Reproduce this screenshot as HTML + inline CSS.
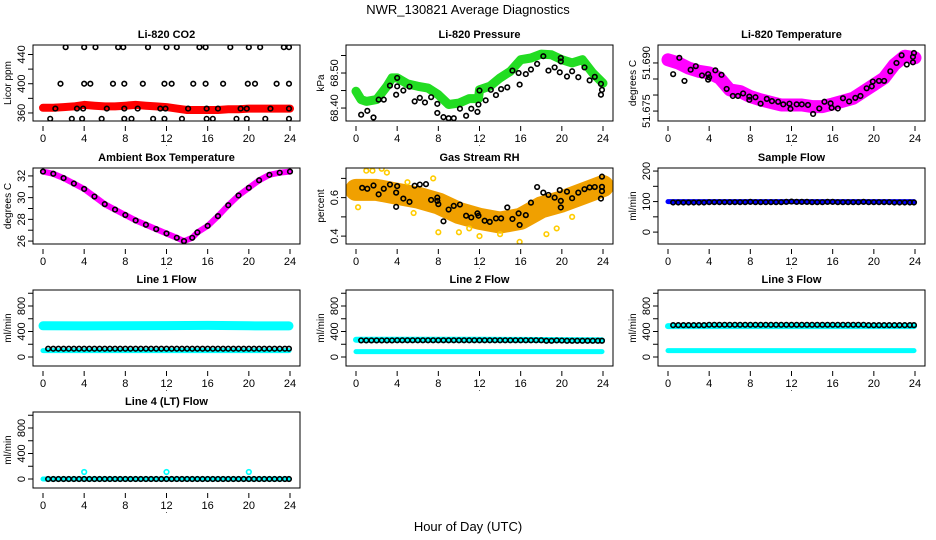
<!DOCTYPE html>
<html><head><meta charset="utf-8">
<style>
html,body{margin:0;padding:0;background:#fff;}
svg{display:block;font-family:"Liberation Sans",Arial,sans-serif;}
</style></head>
<body>
<svg id="chart" width="936" height="540" viewBox="0 0 936 540">
<rect x="0" y="0" width="936" height="540" fill="#fff"/>
<text x="468" y="14" text-anchor="middle" font-size="13">NWR_130821  Average Diagnostics</text>
<text x="468" y="531" text-anchor="middle" font-size="13">Hour of Day (UTC)</text>
</svg>
<script>
// ---- data arrays ----
const xTicks = [0,4,8,12,16,20,24];
const co2BandHours = [0,1,2,3,4,5,6,7,8,9,10,11,12,13,14,15,16,17,18,19,20,21,22,23,24];
const co2BandValues = [367,367,368,369,371,370,369,369,370,371,370,369,368,366,364,364,364,364,365,365,366,366,366,366,366];
const co2Hours440 = [2.2,4,5.1,7.3,7.8,10.2,12,13,15.2,15.8,18.2,20,21.1,23.4,23.9];
const co2Hours400 = [1.7,4,4.6,6.8,7.9,9.7,11.8,12.5,14.6,15.8,17.5,19.9,20.6,22.7,23.9];
const co2Hours366 = [1.2,3.3,3.9,6.2,7.9,9.2,11.4,11.9,14.1,15.9,17,19.2,19.8,22.1,23.9];
const co2Hours352 = [0.7,2.8,3.8,5.7,7.9,8.6,10.7,11.8,13.5,15.9,16.5,18.8,19.8,21.6,23.9];

const presBandHours = [0,0.5,1,2,3,3.5,4,5,6,7,8,9,10,11,11.9,12,13,14,15,16,17,18,19,20,21,22,23,24];
const presBandValues = [68.448,68.424,68.419,68.424,68.462,68.486,68.486,68.469,68.462,68.457,68.438,68.41,68.414,68.427,68.427,68.452,68.462,68.486,68.505,68.538,68.543,68.554,68.552,68.538,68.529,68.538,68.50,68.471];
const presPtHours = [0.5,1.1,1.7,2.2,2.7,3.3,3.9,4,4,4.6,5.2,5.7,6.2,6.7,7.3,7.9,7.9,8.5,9,9.5,10.1,10.7,11.2,11.8,11.9,12,12.6,13.1,13.6,14.1,14.7,15.2,15.8,15.9,16.5,17,17.6,18.2,18.7,19.3,19.8,19.9,19.9,20.5,21,21.6,22.2,22.7,23.2,23.8,23.8,23.9];
const presPtValues = [68.381,68.392,68.373,68.424,68.424,68.464,68.438,68.462,68.486,68.450,68.461,68.419,68.429,68.416,68.431,68.412,68.386,68.374,68.371,68.371,68.398,68.378,68.398,68.389,68.410,68.450,68.422,68.452,68.437,68.454,68.459,68.507,68.500,68.467,68.497,68.510,68.526,68.548,68.507,68.516,68.502,68.533,68.543,68.490,68.505,68.488,68.516,68.479,68.489,68.469,68.438,68.452];

const tempBandHours = [0,1,2,3,4,5,6,7,8,9,10,11,12,13,14,15,16,17,18,19,20,21,22,23,24];
const tempBandValues = [51.6910,51.6900,51.6884,51.6874,51.6869,51.6853,51.6816,51.6811,51.6795,51.6785,51.6777,51.6769,51.6769,51.6769,51.6764,51.6764,51.6772,51.6781,51.6790,51.6811,51.6832,51.6853,51.6895,51.6921,51.6916];
const tempPtHours = [0.5,1.1,1.6,2.2,2.7,3.3,3.9,3.9,4,4.6,5.2,5.7,6.3,6.8,7.3,7.9,7.9,8.5,9,9.6,10.1,10.7,11.2,11.8,11.9,12.5,13,13.6,14.1,14.7,15.2,15.8,15.9,16.5,17,17.6,18.2,18.7,19.3,19.8,19.9,20.5,21,21.6,22.2,22.7,23.2,23.8,23.8,23.9];
const tempPtValues = [51.6865,51.6916,51.6844,51.6879,51.6890,51.6861,51.6865,51.6848,51.6855,51.6877,51.6863,51.6819,51.6797,51.6797,51.6805,51.6785,51.6795,51.6793,51.6773,51.6788,51.6781,51.6779,51.6771,51.6773,51.6757,51.6771,51.6771,51.6769,51.6741,51.6758,51.6779,51.6774,51.6760,51.6758,51.6790,51.6780,51.6791,51.6797,51.6821,51.6827,51.6842,51.6844,51.6844,51.6874,51.6900,51.6924,51.6895,51.6902,51.6919,51.6931];

const ambHours = [0,1,2,3,4,5,6,7,8,9,10,11,12,13,13.7,14.5,15,16,17,18,19,20,21,22,23,24];
const ambValues = [32.4,32.2,31.8,31.3,30.8,30.1,29.4,28.9,28.4,27.9,27.5,27.1,26.7,26.3,26.0,26.3,26.8,27.4,28.3,29.3,30.2,30.9,31.6,32.1,32.3,32.4];

const rhBandHours = [0,2,4,6,8,10,12,14,16,18,20,22,24];
const rhBandValues = [0.64,0.64,0.62,0.60,0.57,0.52,0.49,0.47,0.49,0.55,0.58,0.62,0.66];
const rhOutHours = [0.2,1,1.6,2.5,3,5,5.6,7.5,8,10,11,12,14,15.9,18.5,19.5,21];
const rhOutValues = [0.55,0.74,0.74,0.75,0.73,0.68,0.52,0.70,0.42,0.42,0.44,0.40,0.41,0.37,0.41,0.44,0.50];
const rhPtHours = [0.6,1.1,1.7,2.2,2.7,3.3,3.9,3.9,4,4.6,5.2,5.7,6.2,6.8,7.3,7.9,7.9,8,8.5,9,9.5,10.1,10.7,11.2,11.8,11.9,12.5,13,13.6,14.1,14.7,15.2,15.8,15.9,16.5,17,17.6,18.2,18.7,19.3,19.8,19.9,19.9,20.5,21,21.6,22.2,22.7,23.2,23.8,23.9,23.9,23.9];
const rhPtValues = [0.651,0.646,0.663,0.617,0.646,0.668,0.552,0.626,0.660,0.595,0.578,0.662,0.668,0.670,0.588,0.600,0.583,0.566,0.477,0.538,0.557,0.564,0.506,0.497,0.518,0.506,0.480,0.474,0.492,0.492,0.549,0.489,0.518,0.458,0.509,0.574,0.655,0.626,0.614,0.600,0.639,0.583,0.549,0.631,0.597,0.626,0.644,0.653,0.655,0.595,0.709,0.656,0.634];

const flowHours = [0.5,1,1.5,2,2.5,3,3.5,4,4.5,5,5.5,6,6.5,7,7.5,8,8.5,9,9.5,10,10.5,11,11.5,12,12.5,13,13.5,14,14.5,15,15.5,16,16.5,17,17.5,18,18.5,19,19.5,20,20.5,21,21.5,22,22.5,23,23.5,23.9];
const sampleFlow = [97,97,97,97,97,97,97,98,98,98,98,98,98,98,98,99,98,98,98,98,98,98,99,100,99,99,99,98,98,98,99,99,98,98,98,98,98,99,98,98,98,98,98,97,97,97,97,97];
const line1Flow = [130,130,130,130,130,130,130,130,130,130,130,130,130,130,130,130,130,130,130,130,130,130,130,130,130,130,130,130,130,130,130,130,130,130,130,130,130,130,130,130,130,130,130,130,130,130,130,130];
const line2Flow = [260,260,260,260,260,260,260,262,262,262,262,262,262,262,262,262,262,262,262,262,262,262,262,262,262,262,262,262,262,262,262,262,262,262,262,262,255,255,260,258,255,255,255,255,255,255,255,255];
const line3Flow = [500,500,500,500,500,500,500,505,505,505,505,505,505,505,505,505,505,505,505,505,505,505,505,505,505,505,505,505,505,505,505,505,505,505,505,505,505,505,500,500,500,500,500,500,500,500,500,500];
const line4Flow = [0,0,0,0,0,0,0,0,0,0,0,0,0,0,0,0,0,0,0,0,0,0,0,0,0,0,0,0,0,0,0,0,0,0,0,0,0,0,0,0,0,0,0,0,0,0,0,0];
const cyanBandHours = [0,4,8,12,16,20,23.9];
const line1CyanHigh = [490,488,490,492,495,490,488];
const line1CyanLow = [100,100,100,100,100,100,100];
const line2CyanHigh = [270,270,272,270,268,265,262];
const line2CyanLow = [85,85,85,85,85,85,85];
const line3CyanHigh = [485,485,485,485,485,485,485];
const line3CyanLow = [100,100,100,100,100,100,100];
const line4Cyan = [0,0,0,0,0,0,0];
const line4SpikeHours = [4,12,20];
const line4SpikeValues = [110,110,110];

// ---- drawing ----
const NS = "http://www.w3.org/2000/svg";
const svg = document.getElementById('chart');
const colLeft = [33,346,658], rowTop = [45,168,290,412], PW = 267, PH = 76;
function mk(tag, attrs, parent){ const e=document.createElementNS(NS,tag); for(const k in attrs) e.setAttribute(k,attrs[k]); (parent||svg).appendChild(e); return e; }

function panel(col,row,name,title,ylab,ymin,ymax,ticks,labels){
  const L=colLeft[col], T=rowTop[row];
  const g = mk('g',{});
  
  
  const xs = h => L+10+h*(247/24);
  const ys = v => T+PH*(ymax-v)/(ymax-ymin);
  const t = mk('text',{x:L+PW/2,y:T-7,'text-anchor':'middle','font-size':11,'font-weight':'bold'},g);
  t.textContent=title;
  
  
  const yl = mk('text',{transform:`translate(${L-22},${T+PH/2}) rotate(-90)`,'text-anchor':'middle','font-size':10},g);
  yl.textContent=ylab;
  
  
  const plot = mk('g',{},g);
  const clip = 'clip-'+name;
  const cp = mk('clipPath',{id:clip},g); mk('rect',{x:L,y:T,width:PW,height:PH},cp);
  plot.setAttribute('clip-path',`url(#${clip})`);
  // x axis
  xTicks.forEach(h=>{
    mk('line',{x1:xs(h),x2:xs(h),y1:T+PH+5,y2:T+PH+10,stroke:'#000'},g);
    const lt = mk('text',{x:xs(h),y:T+PH+21,'text-anchor':'middle','font-size':11},g);
    lt.textContent=h;
    
    
  });
  const dot = mk('text',{x:xs(12),y:T+PH+25,'text-anchor':'middle','font-size':8},g); dot.textContent='.';
  // y axis
  ticks.forEach((v,i)=>{
    mk('line',{x1:L-5,x2:L,y1:ys(v),y2:ys(v),stroke:'#000'},g);
    if(labels[i]!==''){
      const lt = mk('text',{transform:`translate(${L-8},${ys(v)}) rotate(-90)`,'text-anchor':'middle','font-size':11},g);
      lt.textContent=labels[i];
      
      
    }
  });
  mk('rect',{x:L,y:T,width:PW,height:PH,fill:'none',stroke:'#000','stroke-width':1},g);
  return {plot,xs,ys};
}
function band(p,hours,vals,color,w,name){
  const pts = hours.map((h,i)=>p.xs(h).toFixed(1)+','+p.ys(vals[i]).toFixed(1)).join(' ');
  const e = mk('polyline',{points:pts,fill:'none',stroke:color,'stroke-width':w,'stroke-linejoin':'round','stroke-linecap':'round'},p.plot);
  
  
}
function pts(p,hours,vals,color,name,r){
  hours.forEach((h,i)=>{
    const c = mk('circle',{cx:p.xs(h),cy:p.ys(vals[i]),r:r||2.3,fill:'none',stroke:color,'stroke-width':1.6},p.plot);
    
    
  });
}
const rep = (a,v)=>a.map(()=>v);

// CO2
let p = panel(0,0,'co2-panel','Li-820 CO2','Licor ppm',349,453,[360,380,400,420,440],['360','','400','','440']);
band(p,co2BandHours,co2BandValues,'#ff0000',8,'co2-band');
pts(p,co2Hours440,rep(co2Hours440,450),'#000','co2-point');
pts(p,co2Hours400,rep(co2Hours400,400),'#000','co2-point');
pts(p,co2Hours366,rep(co2Hours366,366),'#000','co2-point');
pts(p,co2Hours352,rep(co2Hours352,352),'#000','co2-point');

// Pressure
p = panel(1,0,'pressure-panel','Li-820 Pressure','kPa',68.363,68.58,[68.40,68.45,68.50,68.55],['68.40','','68.50','']);
band(p,presBandHours,presBandValues,'#22dd22',9,'pressure-band');
pts(p,presPtHours,presPtValues,'#000','pressure-point');

// Li temperature
p = panel(2,0,'li-temp-panel','Li-820 Temperature','degrees C',51.6719,51.6956,[51.675,51.680,51.685,51.690],['51.675','','','51.690']);
band(p,tempBandHours,tempBandValues,'#ff00ff',13,'li-temp-band');
pts(p,tempPtHours,tempPtValues,'#000','li-temp-point');

// Ambient
p = panel(0,1,'ambient-panel','Ambient Box Temperature','degrees C',25.73,32.73,[26,27,28,29,30,31,32],['26','','28','','30','','32']);
band(p,ambHours,ambValues,'#ff00ff',6,'ambient-band');
pts(p,ambHours,ambValues,'#000','ambient-point');

// RH
p = panel(1,1,'rh-panel','Gas Stream RH','percent',0.359,0.754,[0.4,0.5,0.6,0.7],['0.4','','0.6','']);
band(p,rhBandHours,rhBandValues,'#f0a000',22,'rh-band');
pts(p,rhOutHours,rhOutValues,'#ffcc00','rh-outlier');
pts(p,rhPtHours,rhPtValues,'#000','rh-point');

// Sample flow
p = panel(2,1,'sample-flow-panel','Sample Flow','ml/min',-39,210,[0,50,100,150,200],['0','','100','','200']);
band(p,[0,23.9],[100,100],'#0000ff',5,'sample-flow-band');
pts(p,flowHours,sampleFlow,'#000','sample-flow-point');

const fT=[0,200,400,600,800,1000], fL=['0','','400','','800',''];
p = panel(0,2,'line1-panel','Line 1 Flow','ml/min',-141,1051,fT,fL);
band(p,cyanBandHours,line1CyanHigh,'#00ffff',9,'line1-cyan-high');
band(p,cyanBandHours,line1CyanLow,'#00ffff',5,'line1-cyan-low');
pts(p,flowHours,line1Flow,'#000','line1-point');

p = panel(1,2,'line2-panel','Line 2 Flow','ml/min',-141,1051,fT,fL);
band(p,cyanBandHours,line2CyanHigh,'#00ffff',6,'line2-cyan-high');
band(p,cyanBandHours,line2CyanLow,'#00ffff',5,'line2-cyan-low');
pts(p,flowHours,line2Flow,'#000','line2-point');

p = panel(2,2,'line3-panel','Line 3 Flow','ml/min',-141,1051,fT,fL);
band(p,cyanBandHours,line3CyanHigh,'#00ffff',6,'line3-cyan-high');
band(p,cyanBandHours,line3CyanLow,'#00ffff',5,'line3-cyan-low');
pts(p,flowHours,line3Flow,'#000','line3-point');

p = panel(0,3,'line4-panel','Line 4 (LT) Flow','ml/min',-141,1051,fT,fL);
band(p,cyanBandHours,line4Cyan,'#00ffff',5,'line4-cyan');
pts(p,line4SpikeHours,line4SpikeValues,'#00ffff','line4-spike');
pts(p,flowHours,line4Flow,'#000','line4-point');
</script>
</body></html>
